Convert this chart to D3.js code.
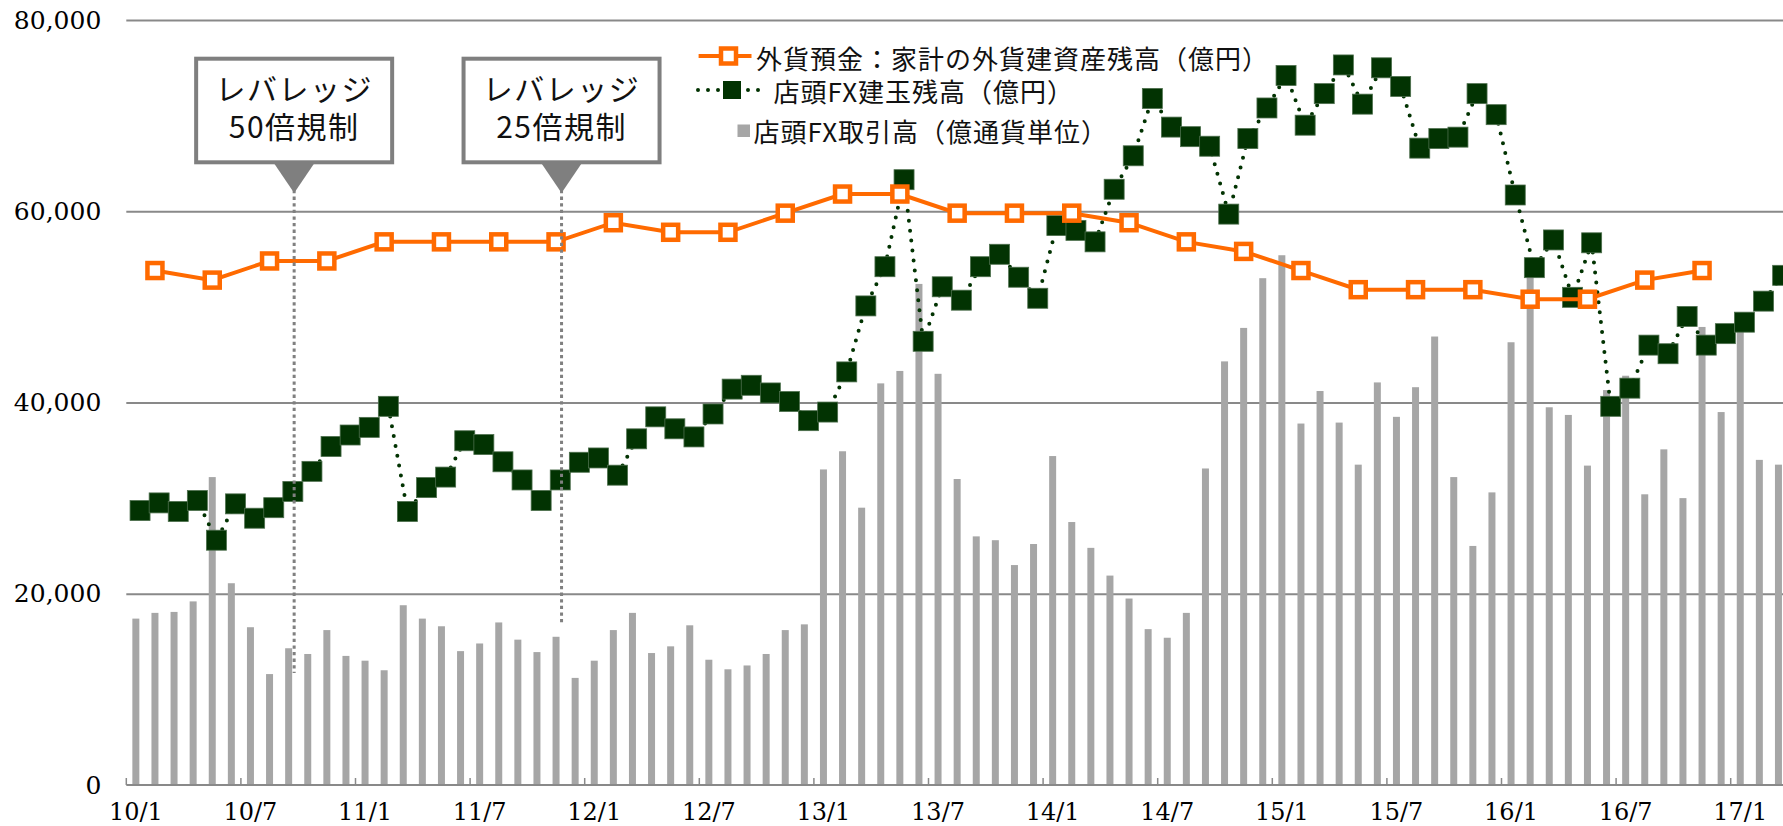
<!DOCTYPE html>
<html>
<head>
<meta charset="utf-8">
<script src="https://cdn.jsdelivr.net/npm/d3@7"></script>
<style>
  body { margin: 0; background: #fff; }
  svg { display: block; }
</style>
</head>
<body>
<svg id="chart"></svg>
<script>
const width = 1783;
const height = 826;

// monthly categories 2010/01 .. 2017/03
const months = [];
for (let y = 2010; y <= 2017; y++) {
  for (let m = 1; m <= 12; m++) {
    if (y === 2017 && m > 3) break;
    months.push(y + "/" + String(m).padStart(2, "0"));
  }
}

const tickMonths = ["2010/01", "2010/07", "2011/01", "2011/07", "2012/01", "2012/07", "2013/01", "2013/07",
  "2014/01", "2014/07", "2015/01", "2015/07", "2016/01", "2016/07", "2017/01"];
const tickLabels = ["10/1", "10/7", "11/1", "11/7", "12/1", "12/7", "13/1", "13/7",
  "14/1", "14/7", "15/1", "15/7", "16/1", "16/7", "17/1"];
const yTicks = [0, 20000, 40000, 60000, 80000];

// 店頭FX取引高（億通貨単位）
const fxVolume = [
  17400, 18000, 18100, 19200, 32200, 21100, 16500, 11600, 14300, 13700, 16200, 13500,
  13000, 12000, 18800, 17400, 16600, 14000, 14800, 17000, 15200, 13900, 15500, 11200,
  13000, 16200, 18000, 13800, 14500, 16700, 13100, 12100, 12500, 13700, 16200, 16800,
  33000, 34900, 29000, 42000, 43300, 52400, 43000, 32000, 26000, 25600, 23000, 25200,
  34400, 27500, 24800, 21900, 19500, 16300, 15400, 18000, 33100, 44300, 47800, 53000,
  55400, 37800, 41200, 37900, 33500, 42100, 38500, 41600, 46900, 32200, 25000, 30600,
  46300, 54000, 39500, 38700, 33400, 41300, 42800, 30400, 35100, 30000, 47900, 39000,
  47500, 34000, 33500
];

// 店頭FX建玉残高（億円）
const fxPositions = [
  28700, 29500, 28600, 29750, 25600, 29400, 27900, 29000, 30700, 32800, 35400, 36600,
  37400, 39600, 28600, 31100, 32200, 36000, 35600, 33800, 31900, 29750, 31900, 33750,
  34200, 32400, 36200, 38500, 37250, 36400, 38800, 41400, 41800, 41000, 40100, 38100,
  39000, 43200, 50100, 54200, 63300, 46400, 52100, 50700, 54200, 55500, 53100, 50900,
  58500, 58000, 56800, 62300, 65800, 71800, 68800, 67800, 66800, 59700, 67600, 70800,
  74200, 69000, 72300, 75300, 71200, 75000, 73050, 66600, 67600, 67750, 72300, 70100,
  61700, 54100, 57000, 51000, 56700, 39600, 41500, 46000, 45100, 49000, 46000, 47200,
  48400, 50600, 53300
];

// 外貨預金：家計の外貨建資産残高（億円）
const depositMonths = [
  "2010/02", "2010/05", "2010/08", "2010/11", "2011/02", "2011/05", "2011/08", "2011/11",
  "2012/02", "2012/05", "2012/08", "2012/11", "2013/02", "2013/05", "2013/08", "2013/11",
  "2014/02", "2014/05", "2014/08", "2014/11", "2015/02", "2015/05", "2015/08", "2015/11",
  "2016/02", "2016/05", "2016/08", "2016/11"
];
const depositValues = [
  53800, 52800, 54800, 54800, 56800, 56800, 56800, 56800,
  58800, 57800, 57800, 59800, 61800, 61800, 59800, 59800,
  59800, 58800, 56800, 55800, 53800, 51800, 51800, 51800,
  50800, 50800, 52800, 53800
];

const legendLabels = [
  "外貨預金：家計の外貨建資産残高（億円）",
  "店頭FX建玉残高（億円）",
  "店頭FX取引高（億通貨単位）"
];

const callouts = [
  { month: "2010/09", lines: ["レバレッジ", "50倍規制"], endValue: 11700 },
  { month: "2011/11", lines: ["レバレッジ", "25倍規制"], endValue: 16800 }
];

const orange = "#ff6a00";
const darkGreen = "#023302";
const barGray = "#a6a6a6";
const gridGray = "#898989";

const plotLeft = 126.3;
const step = 19.1;
const lineShift = 4.2;   // line series sit a little right of the bars

const svg = d3.select("#chart").attr("width", width).attr("height", height);

const xScale = d3.scaleBand()
  .domain(months)
  .range([plotLeft, plotLeft + months.length * step])
  .padding(0);

const yScale = d3.scaleLinear().domain([0, 80000]).range([785, 20]);

const cx = (m) => xScale(m) + xScale.bandwidth() / 2;

// gridlines
svg.append("g")
  .attr("transform", "translate(" + plotLeft + ",0)")
  .call(d3.axisLeft(yScale).tickValues(yTicks.slice(1)).tickSize(-(width - plotLeft)).tickFormat(""))
  .call((g) => g.select(".domain").remove())
  .call((g) => g.selectAll("line").attr("stroke", gridGray).attr("stroke-width", 2));

// y labels
svg.append("g")
  .attr("transform", "translate(" + plotLeft + ",0)")
  .call(d3.axisLeft(yScale).tickValues(yTicks).tickSize(0).tickPadding(25).tickFormat(d3.format(",")))
  .call((g) => g.select(".domain").remove())
  .call((g) => g.selectAll("text")
    .attr("font-family", "'DejaVu Serif', serif")
    .attr("font-size", 25)
    .attr("fill", "#000"));

// bars
svg.append("g")
  .selectAll("rect")
  .data(fxVolume)
  .enter()
  .append("rect")
  .attr("x", (d, i) => cx(months[i]) - 3.5)
  .attr("width", 7)
  .attr("y", (d) => yScale(d))
  .attr("height", (d) => yScale(0) - yScale(d))
  .attr("fill", barGray);

// x axis line, ticks and labels
svg.append("line")
  .attr("x1", plotLeft).attr("x2", width)
  .attr("y1", yScale(0)).attr("y2", yScale(0))
  .attr("stroke", gridGray).attr("stroke-width", 2);

svg.append("g")
  .selectAll("line")
  .data(tickMonths)
  .enter()
  .append("line")
  .attr("x1", (d) => xScale(d)).attr("x2", (d) => xScale(d))
  .attr("y1", yScale(0)).attr("y2", yScale(0) - 7)
  .attr("stroke", gridGray).attr("stroke-width", 1.5);

svg.append("g")
  .attr("transform", "translate(0," + yScale(0) + ")")
  .call(d3.axisBottom(xScale).tickValues(tickMonths).tickSize(0).tickPadding(18)
    .tickFormat((d) => tickLabels[tickMonths.indexOf(d)]))
  .call((g) => g.select(".domain").remove())
  .call((g) => g.selectAll("text")
    .attr("font-family", "'DejaVu Serif', serif")
    .attr("font-size", 24)
    .attr("fill", "#000"));

// FX positions: dotted line + filled squares
const greenLine = d3.line()
  .x((d, i) => cx(months[i]) + lineShift)
  .y((d) => yScale(d));

svg.append("path")
  .datum(fxPositions)
  .attr("d", greenLine)
  .attr("fill", "none")
  .attr("stroke", darkGreen)
  .attr("stroke-width", 4)
  .attr("stroke-linecap", "round")
  .attr("stroke-dasharray", "0 10");

svg.append("g")
  .selectAll("rect")
  .data(fxPositions)
  .enter()
  .append("rect")
  .attr("x", (d, i) => cx(months[i]) + lineShift - 10)
  .attr("y", (d) => yScale(d) - 10)
  .attr("width", 20)
  .attr("height", 20)
  .attr("fill", darkGreen)
  .attr("stroke", "#4d6f4d")
  .attr("stroke-width", 0.8);

// deposits: solid orange line + hollow squares
const orangeLine = d3.line()
  .x((d, i) => cx(depositMonths[i]))
  .y((d) => yScale(d));

svg.append("path")
  .datum(depositValues)
  .attr("d", orangeLine)
  .attr("fill", "none")
  .attr("stroke", orange)
  .attr("stroke-width", 4);

svg.append("g")
  .selectAll("rect")
  .data(depositValues)
  .enter()
  .append("rect")
  .attr("x", (d, i) => cx(depositMonths[i]) - 7.5)
  .attr("y", (d) => yScale(d) - 7.5)
  .attr("width", 15)
  .attr("height", 15)
  .attr("fill", "#fff")
  .attr("stroke", orange)
  .attr("stroke-width", 4.5);

// callouts
const calloutGroup = svg.append("g").selectAll("g").data(callouts).enter().append("g");

calloutGroup.append("line")
  .attr("x1", (d) => cx(d.month) + 5.5).attr("x2", (d) => cx(d.month) + 5.5)
  .attr("y1", 190).attr("y2", (d) => yScale(d.endValue))
  .attr("stroke", "#808080").attr("stroke-width", 3).attr("stroke-dasharray", "3.3 3.3");

calloutGroup.append("path")
  .attr("d", (d) => {
    const x = cx(d.month) + 5.5;
    return "M" + (x - 21) + ",162 L" + (x + 21) + ",162 L" + x + ",193 Z";
  })
  .attr("fill", "#7f7f7f");

calloutGroup.append("rect")
  .attr("x", (d) => cx(d.month) + 5.5 - 98)
  .attr("y", 58.7)
  .attr("width", 196)
  .attr("height", 103.6)
  .attr("fill", "#fff")
  .attr("stroke", "#7f7f7f")
  .attr("stroke-width", 4);

calloutGroup.each(function (d) {
  const g = d3.select(this);
  d.lines.forEach((t, i) => {
    g.append("text")
      .attr("x", cx(d.month) + 5.5)
      .attr("y", 87 + i * 38)
      .attr("text-anchor", "middle")
      .attr("dominant-baseline", "central")
      .attr("font-family", "'Noto Sans CJK JP', sans-serif")
      .attr("font-size", 30)
      .attr("letter-spacing", 1.5)
      .attr("fill", "#111")
      .text(t);
  });
});

// legend
const legend = svg.append("g")
  .attr("font-family", "'Noto Sans CJK JP', sans-serif")
  .attr("font-size", 26)
  .attr("letter-spacing", 1);

legend.append("line")
  .attr("x1", 698.6).attr("x2", 751.5).attr("y1", 56).attr("y2", 56)
  .attr("stroke", orange).attr("stroke-width", 4);
legend.append("rect")
  .attr("x", 728.5 - 7.5).attr("y", 56 - 7.5).attr("width", 15).attr("height", 15)
  .attr("fill", "#fff").attr("stroke", orange).attr("stroke-width", 4.5);
legend.append("text")
  .attr("x", 756).attr("y", 57).attr("dominant-baseline", "central").attr("fill", "#111")
  .text(legendLabels[0]);

legend.append("line")
  .attr("x1", 698).attr("x2", 766).attr("y1", 90).attr("y2", 90)
  .attr("stroke", darkGreen).attr("stroke-width", 4)
  .attr("stroke-linecap", "round").attr("stroke-dasharray", "0 10");
legend.append("rect")
  .attr("x", 732 - 9).attr("y", 90 - 9).attr("width", 18).attr("height", 18)
  .attr("fill", darkGreen);
legend.append("text")
  .attr("x", 773.5).attr("y", 90).attr("dominant-baseline", "central").attr("fill", "#111")
  .text(legendLabels[1]);

legend.append("rect")
  .attr("x", 737.5).attr("y", 124.5).attr("width", 12.5).attr("height", 12.5)
  .attr("fill", barGray);
legend.append("text")
  .attr("x", 753.5).attr("y", 130).attr("dominant-baseline", "central").attr("fill", "#111")
  .text(legendLabels[2]);
</script>
</body>
</html>
